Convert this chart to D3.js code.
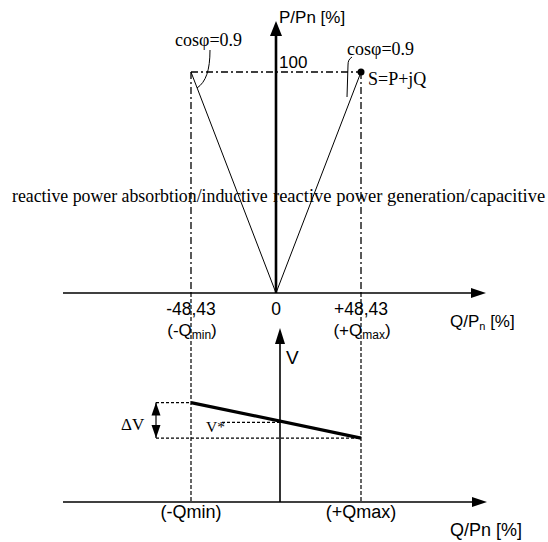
<!DOCTYPE html>
<html>
<head>
<meta charset="utf-8">
<script src="https://cdn.jsdelivr.net/npm/d3@7"></script>
<style>
body { margin: 0; background: #fff; }
.sans { font-family: "Liberation Sans", Arial, sans-serif; }
.serif { font-family: "Liberation Serif", "Times New Roman", serif; }
</style>
</head>
<body>
<div id="chart"></div>
<script>
// values
var qTicks = [-48.43, 0, 48.43]
var qTickLabels = ["-48,43", "0", "+48,43"]
var qLimitNames = ["min", "", "max"]
var pMax = 100
var cosPhi = 0.9
var vQ = [-48.43, 48.43]        // droop line end points (Q)
var vValues = [1.05, 0.95]      // voltage at -Qmin and +Qmax
var vRef = 1.0                  // V*
var lowLabels = ["(-Qmin)", "(+Qmax)"]

var W = 548, H = 542
var svg = d3.select('#chart').append('svg').attr('width', W).attr('height', H)

var x = d3.scaleLinear().domain([-48.43, 48.43]).range([191, 361])
var yP = d3.scaleLinear().domain([0, 100]).range([293, 72])
var yV = d3.scaleLinear().domain([0.77, 1.26]).range([502, 328])

var axisLeftX = 63, axisRightX = 486
var vAxisX = x(0) + 4

function arrowHead(g, tipX, tipY, dir, len, half) {
    var pts
    if (dir == "up") pts = [[tipX, tipY], [tipX - half, tipY + len], [tipX + half, tipY + len]]
    if (dir == "down") pts = [[tipX, tipY], [tipX - half, tipY - len], [tipX + half, tipY - len]]
    if (dir == "right") pts = [[tipX, tipY], [tipX - len, tipY - half], [tipX - len, tipY + half]]
    g.append("path").attr("d", "M" + pts.join("L") + "Z").attr("fill", "#000")
}

// ---------- upper chart ----------
var upper = svg.append("g")

// dash-dot guide lines
var qEdge = pMax * Math.tan(Math.acos(cosPhi))
upper.append("line")
    .attr("x1", x(-qEdge)).attr("x2", x(qEdge))
    .attr("y1", yP(pMax)).attr("y2", yP(pMax))
    .attr("stroke", "#000").attr("stroke-width", 1.3)
    .attr("stroke-dasharray", "7,3,2,3")
upper.selectAll(".vguide")
    .data([-qEdge, qEdge])
    .enter().append("line")
    .attr("x1", function(d){return x(d)}).attr("x2", function(d){return x(d)})
    .attr("y1", yP(pMax)).attr("y2", yP(0))
    .attr("stroke", "#000").attr("stroke-width", 1.3)
    .attr("stroke-dasharray", "7,3,2,3")

// triangle (S vectors)
upper.selectAll(".svec")
    .data([-qEdge, qEdge])
    .enter().append("line")
    .attr("x1", x(0)).attr("y1", yP(0))
    .attr("x2", function(d){return x(d)}).attr("y2", yP(pMax))
    .attr("stroke", "#000").attr("stroke-width", 1)
upper.append("circle").attr("cx", x(qEdge)).attr("cy", yP(pMax)).attr("r", 3.5).attr("fill", "#000")

// x axis
upper.append("line")
    .attr("x1", axisLeftX).attr("x2", axisRightX - 12)
    .attr("y1", yP(0)).attr("y2", yP(0))
    .attr("stroke", "#000").attr("stroke-width", 1.6)
arrowHead(upper, axisRightX, yP(0), "right", 15, 5)

// P axis
upper.append("line")
    .attr("x1", x(0)).attr("x2", x(0))
    .attr("y1", yP(0)).attr("y2", 30)
    .attr("stroke", "#000").attr("stroke-width", 2.6)
arrowHead(upper, x(0), 21, "up", 15, 6)

upper.append("text").attr("class", "sans")
    .attr("x", x(0) + 3).attr("y", 23).attr("font-size", 17)
    .text("P/Pn [%]")
upper.append("text").attr("class", "sans")
    .attr("x", x(0) + 3).attr("y", 68).attr("font-size", 17)
    .text(pMax)

// tick labels
upper.selectAll(".tl")
    .data(qTicks)
    .enter().append("text").attr("class", "sans")
    .attr("x", function(d){return x(d)})
    .attr("y", 315).attr("font-size", 17.5)
    .attr("text-anchor", "middle")
    .text(function(d, i){return qTickLabels[i]})
var lim = upper.selectAll(".lim")
    .data(qTicks.filter(function(d){return d != 0}))
    .enter().append("text").attr("class", "sans")
    .attr("x", function(d){return x(d) + 1})
    .attr("y", 336).attr("font-size", 17)
    .attr("text-anchor", "middle")
lim.append("tspan").text(function(d){return d < 0 ? "(-Q" : "(+Q"})
lim.append("tspan").attr("font-size", 12).attr("dy", 3)
    .text(function(d){return d < 0 ? qLimitNames[0] : qLimitNames[2]})
lim.append("tspan").attr("dy", -3).text(")")

var qlab = upper.append("text").attr("class", "sans")
    .attr("x", 450).attr("y", 327).attr("font-size", 17)
qlab.append("tspan").text("Q/P")
qlab.append("tspan").attr("font-size", 11).attr("dy", 3).text("n")
qlab.append("tspan").attr("dy", -3).text(" [%]")

// serif labels
upper.append("text").attr("class", "serif")
    .attr("x", 12).attr("y", 202).attr("font-size", 17.8)
    .text("reactive power absorbtion/inductive")
upper.append("text").attr("class", "serif")
    .attr("x", 273).attr("y", 202).attr("font-size", 18.5)
    .text("reactive power generation/capacitive")
upper.append("text").attr("class", "serif")
    .attr("x", 175).attr("y", 46).attr("font-size", 18)
    .text("cos\u03c6=0.9")
upper.append("text").attr("class", "serif")
    .attr("x", 347).attr("y", 55).attr("font-size", 18)
    .text("cos\u03c6=0.9")
upper.append("text").attr("class", "serif")
    .attr("x", 368).attr("y", 85).attr("font-size", 18)
    .text("S=P+jQ")

// leader lines
upper.append("path")
    .attr("d", "M210,50 C210,70 206,82 197,88")
    .attr("fill", "none").attr("stroke", "#000").attr("stroke-width", 1)
upper.append("path")
    .attr("d", "M352,57 C349,59 348,61 348,65 L347,97")
    .attr("fill", "none").attr("stroke", "#000").attr("stroke-width", 1)

// ---------- lower chart ----------
var low = svg.append("g")

// dashed continuations of the limits
low.selectAll(".vlow")
    .data(vQ)
    .enter().append("line")
    .attr("x1", function(d){return x(d)}).attr("x2", function(d){return x(d)})
    .attr("y1", yP(0)).attr("y2", yV.range()[0])
    .attr("stroke", "#000").attr("stroke-width", 1.2)
    .attr("stroke-dasharray", "4,2")

// delta V guides
var dvX = 156
low.append("line")
    .attr("x1", dvX).attr("x2", x(vQ[0]))
    .attr("y1", yV(vValues[0])).attr("y2", yV(vValues[0]))
    .attr("stroke", "#000").attr("stroke-width", 1.2).attr("stroke-dasharray", "3,2")
low.append("line")
    .attr("x1", dvX).attr("x2", x(vQ[1]))
    .attr("y1", yV(vValues[1])).attr("y2", yV(vValues[1]))
    .attr("stroke", "#000").attr("stroke-width", 1.2).attr("stroke-dasharray", "3,2")
low.append("line")
    .attr("x1", 222).attr("x2", vAxisX)
    .attr("y1", yV(vRef) + 2).attr("y2", yV(vRef) + 2)
    .attr("stroke", "#000").attr("stroke-width", 1.2).attr("stroke-dasharray", "3,2")

// delta V double arrow
low.append("line")
    .attr("x1", dvX).attr("x2", dvX)
    .attr("y1", yV(vValues[0])).attr("y2", yV(vValues[1]))
    .attr("stroke", "#000").attr("stroke-width", 1.2)
arrowHead(low, dvX, yV(vValues[0]), "up", 13, 4.5)
arrowHead(low, dvX, yV(vValues[1]), "down", 13, 4.5)

// droop line
var line = d3.line().x(function(d){return x(d[0])}).y(function(d){return yV(d[1])})
low.append("path")
    .datum(vQ.map(function(q, i){return [q, vValues[i]]}))
    .attr("d", line)
    .attr("fill", "none").attr("stroke", "#000").attr("stroke-width", 3.2)

// axes
low.append("line")
    .attr("x1", axisLeftX).attr("x2", axisRightX - 12)
    .attr("y1", yV.range()[0]).attr("y2", yV.range()[0])
    .attr("stroke", "#000").attr("stroke-width", 1.6)
arrowHead(low, axisRightX + 1, yV.range()[0], "right", 15, 5)
low.append("line")
    .attr("x1", vAxisX).attr("x2", vAxisX)
    .attr("y1", yV.range()[0]).attr("y2", yV.range()[1] + 10)
    .attr("stroke", "#000").attr("stroke-width", 1.6)
arrowHead(low, vAxisX, yV.range()[1], "up", 16, 5)

low.append("text").attr("class", "sans")
    .attr("x", vAxisX + 6).attr("y", 364).attr("font-size", 19)
    .text("V")
low.append("text").attr("class", "serif")
    .attr("x", 121).attr("y", 430).attr("font-size", 17)
    .text("\u0394V")
low.append("text").attr("class", "serif")
    .attr("x", 206).attr("y", 432).attr("font-size", 15.5)
    .text("V*")

low.selectAll(".ll")
    .data(vQ)
    .enter().append("text").attr("class", "sans")
    .attr("x", function(d){return x(d)})
    .attr("y", 518).attr("font-size", 18)
    .attr("text-anchor", "middle")
    .text(function(d, i){return lowLabels[i]})
low.append("text").attr("class", "sans")
    .attr("x", 450).attr("y", 536).attr("font-size", 18)
    .text("Q/Pn [%]")
</script>
</body>
</html>
